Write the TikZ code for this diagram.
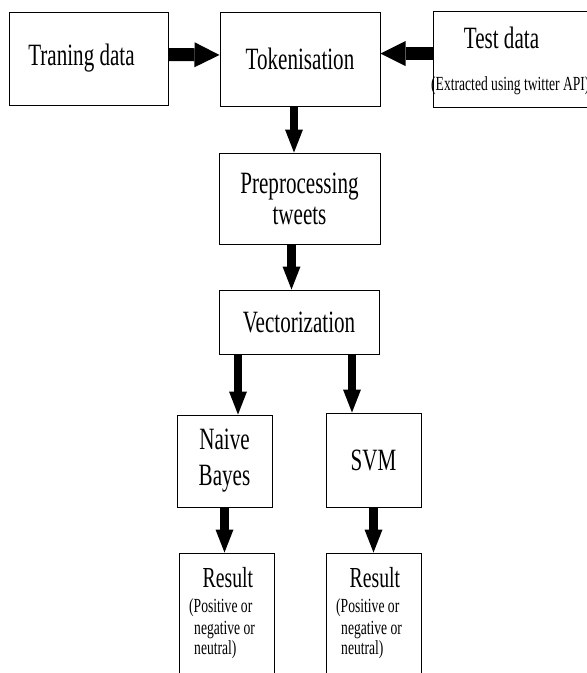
\documentclass[tikz,border=0pt]{standalone}
\usepackage{fontspec}
\setmainfont{Liberation Serif}[FakeStretch=0.68]
\usetikzlibrary{arrows.meta}

\tikzset{
  box/.style={draw, line width=1pt, inner sep=0pt, align=center},
  txt/.style={font=\fontsize{31}{33}\selectfont},
  note/.style={font=\fontsize{20}{21}\selectfont, inner sep=0pt},
  harrow/.style={line width=13pt, -{Triangle[length=25pt,width=25pt,line width=0pt]}},
  varrow/.style={line width=8.5pt, -{Triangle[length=23pt,width=18pt,line width=0pt]}}
}

\begin{document}
\begin{tikzpicture}[x=1pt, y=-1pt]
    \path[use as bounding box] (0,0) rectangle (587,673);
    \clip (0,0) rectangle (587,673);
    % Data sources
    \node[box, txt, minimum width=159pt, minimum height=93pt] (Train) at (88.5,58.5) {Traning data\hspace*{14pt}};
    \node[box, txt, minimum width=160pt, minimum height=94pt] (Token) at (300,59) {Tokenisation};
    \node[box, minimum width=197pt, minimum height=96pt] (Test) at (531.5,59) {};
    \node[txt, anchor=base, inner sep=0pt] (Test-title) at (501.5,48) {Test data};
    \node[note, anchor=base west] (Test-note) at (431,90) {(Extracted using twitter API)};
    % Processing
    \node[box, txt, minimum width=161pt, minimum height=91pt] (Prep) at (299.5,198.5) {Preprocessing\\[-2pt]tweets};
    \node[box, txt, minimum width=160pt, minimum height=64pt] (Vect) at (299,322) {Vectorization};
    % Classifiers
    \node[box, txt, minimum width=95pt, minimum height=92pt] (NB) at (224.5,461) {Naive\\[3pt]Bayes};
    \node[box, txt, minimum width=95pt, minimum height=94pt] (SVM) at (373.5,460) {SVM};
    % Results
    \foreach \i/\x in {1/179,2/326} {
        \node[box, anchor=north west, minimum width=95pt, minimum height=170pt] (Result-\i) at (\x,552.5) {};
        \node[txt, anchor=base west, inner sep=0pt, font=\fontsize{29}{31}\selectfont] (Result-\i-title) at ({\x+23.5},587.5) {Result};
        \node[note, anchor=base west] (Result-\i-a) at ({\x+10},612.5) {(Positive or};
        \node[note, anchor=base west] (Result-\i-b) at ({\x+15},634) {negative or};
        \node[note, anchor=base west] (Result-\i-c) at ({\x+15},654) {neutral)};
    }
    % Arrows
    \draw[harrow] ([yshift=4pt]Train.east) -- ([yshift=4pt]Token.west);
    \draw[harrow] ([yshift=5.5pt]Test.west) -- ([yshift=5.5pt]Token.east);
    \draw[varrow] ([xshift=-6pt]Token.south) -- ([xshift=-6pt]Token.south |- Prep.north);
    \draw[varrow] ([xshift=-8pt]Prep.south) -- ([xshift=-8pt]Prep.south |- Vect.north);
    \draw[varrow] ([xshift=-61pt]Vect.south) -- ([xshift=-61pt]Vect.south |- NB.north);
    \draw[varrow] ([xshift=53pt]Vect.south) -- ([xshift=53pt]Vect.south |- SVM.north);
    \foreach \a/\b in {NB/Result-1,SVM/Result-2} {
        \draw[varrow] (\a.south) -- (\a.south |- \b.north);
    }
\end{tikzpicture}
\end{document}
